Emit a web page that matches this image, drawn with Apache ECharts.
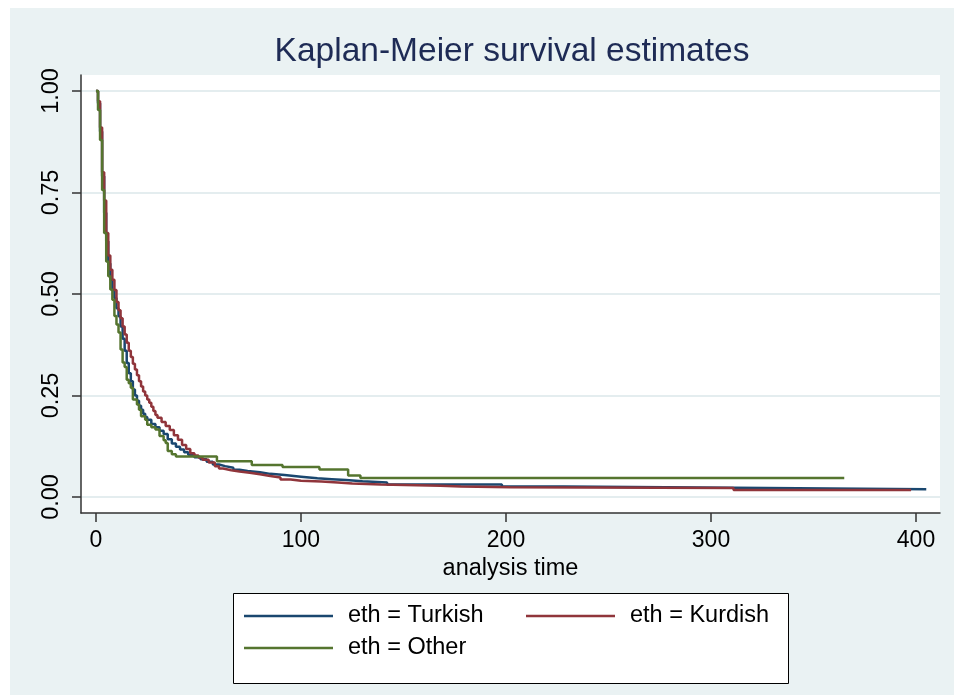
<!DOCTYPE html>
<html>
<head>
<meta charset="utf-8">
<script src="https://cdn.jsdelivr.net/npm/echarts@6/dist/echarts.min.js"></script>
<style>
  html, body { margin: 0; padding: 0; background: #ffffff; }
  #chart { width: 954px; height: 695px; }
</style>
</head>
<body>
<div id="chart"></div>
<script>
// Axis ticks
const xTicks = [0, 100, 200, 300, 400];
const yTicks = [0, 0.25, 0.5, 0.75, 1];

// Group labels
const groupNames = ['eth = Turkish', 'eth = Kurdish', 'eth = Other'];

// Kaplan-Meier estimates: event times and survival after each step
const turkishTime = [0,1,2,3,4,5,6,7,8,9,10,11,12,13,14,15,16,17,18,19,20,21,22,23,24,25,27,29,31,33,35,37,39,41,43,45,48,51,54,57,60,63,67,70,74,80,85,92,100,108,115,122,130,142,198,228,311,405];
const turkishSurv = [1,0.97,0.9,0.79,0.7,0.63,0.575,0.535,0.51,0.49,0.465,0.445,0.42,0.39,0.36,0.33,0.305,0.285,0.265,0.25,0.237,0.225,0.215,0.205,0.197,0.19,0.18,0.172,0.163,0.155,0.142,0.132,0.124,0.117,0.11,0.104,0.098,0.093,0.087,0.08,0.076,0.072,0.067,0.064,0.061,0.057,0.054,0.05,0.046,0.044,0.042,0.039,0.036,0.031,0.026,0.023,0.019,0.019];

const kurdishTime = [0,1,2,3,4,5,6,7,8,9,10,11,12,13,14,15,16,17,18,19,20,21,22,23,24,25,26,27,28,29,30,32,34,36,38,40,42,44,46,48,50,52,55,58,60,62,66,70,75,80,85,90,95,100,110,118,125,139,168,178,202,311,397.6];
const kurdishSurv = [1,0.975,0.91,0.8,0.73,0.65,0.595,0.56,0.535,0.51,0.48,0.46,0.44,0.42,0.4,0.38,0.36,0.345,0.328,0.314,0.3,0.285,0.272,0.26,0.25,0.24,0.232,0.222,0.212,0.202,0.195,0.185,0.175,0.165,0.152,0.141,0.128,0.118,0.108,0.102,0.097,0.092,0.085,0.076,0.07,0.066,0.063,0.06,0.056,0.052,0.048,0.043,0.04,0.038,0.036,0.033,0.031,0.028,0.026,0.024,0.022,0.017,0.017];

const otherTime = [0,1,2,3,4,5,6,7,8,9,10,11,12,13,14,15,16,17,18,20,21,22,24,25,27,29,31,33,34,35,37,39,59,76,91,109,123,129,365];
const otherSurv = [1,0.953,0.879,0.756,0.65,0.58,0.544,0.511,0.486,0.446,0.425,0.405,0.363,0.331,0.32,0.289,0.28,0.269,0.24,0.228,0.215,0.199,0.19,0.178,0.172,0.166,0.15,0.14,0.133,0.113,0.105,0.1,0.088,0.079,0.074,0.068,0.053,0.047,0.047];

const colors = ['#1A476F', '#90353B', '#55752F'];
const FONT = 'Liberation Sans, Arial, sans-serif';

function pairs(times, surv) {
  return times.map((t, i) => [t, surv[i]]);
}

const curves = [
  pairs(turkishTime, turkishSurv),
  pairs(kurdishTime, kurdishSurv),
  pairs(otherTime, otherSurv)
];

const chart = echarts.init(document.getElementById('chart'), null, { renderer: 'canvas' });

const legendBase = {
  orient: 'horizontal',
  icon: 'rect',
  itemWidth: 89,
  itemHeight: 2.5,
  padding: 0,
  selectedMode: false,
  z: 6,
  textStyle: { fontFamily: FONT, fontSize: 23.5, color: '#000', padding: [0, 0, 0, 10] }
};

chart.setOption({
  animation: false,
  backgroundColor: '#EAF2F3',
  title: {
    text: 'Kaplan-Meier survival estimates',
    left: 507,
    top: 30,
    textAlign: 'center',
    textStyle: { fontFamily: FONT, fontSize: 33.5, fontWeight: 'normal', color: '#1E2B55' }
  },
  graphic: [
    { type: 'rect', shape: { x: 0, y: 0, width: 954, height: 8 }, style: { fill: '#fff' }, silent: true },
    { type: 'rect', shape: { x: 0, y: 0, width: 10, height: 695 }, style: { fill: '#fff' }, silent: true },
    { type: 'rect', shape: { x: 233.5, y: 593.5, width: 555, height: 90 }, style: { fill: '#fff', stroke: '#000', lineWidth: 1 }, silent: true, z: 1 }
  ],
  legend: [
    Object.assign({}, legendBase, { data: [groupNames[0]], left: 244, top: 604 }),
    Object.assign({}, legendBase, { data: [groupNames[1]], left: 526, top: 604 }),
    Object.assign({}, legendBase, { data: [groupNames[2]], left: 244, top: 636 })
  ],
  grid: {
    left: 81, top: 75, width: 859, height: 438,
    show: true, backgroundColor: '#fff', borderWidth: 0,
    containLabel: false
  },
  xAxis: {
    type: 'value',
    min: -7.3,
    max: 411.7,
    name: 'analysis time',
    nameLocation: 'middle',
    nameGap: 40,
    nameTextStyle: { fontFamily: FONT, fontSize: 23.5, color: '#000' },
    axisLine: { show: true, onZero: false, lineStyle: { color: '#333', width: 1.5 } },
    axisTick: { show: true, length: 9, customValues: xTicks, lineStyle: { color: '#333', width: 1.5 } },
    axisLabel: { customValues: xTicks, fontFamily: FONT, fontSize: 23, color: '#000', margin: 16 },
    splitLine: { show: false }
  },
  yAxis: {
    type: 'value',
    min: -0.0394,
    max: 1.0394,
    axisLine: { show: true, onZero: false, lineStyle: { color: '#333', width: 1.5 } },
    axisTick: { show: true, length: 9, customValues: yTicks, lineStyle: { color: '#333', width: 1.5 } },
    axisLabel: {
      customValues: yTicks,
      rotate: 90,
      margin: 17,
      fontFamily: FONT, fontSize: 23.5, color: '#000',
      formatter: v => v.toFixed(2)
    },
    splitLine: { show: true, lineStyle: { color: '#E4EDEF', width: 2 } }
  },
  series: curves.map((data, i) => ({
    name: groupNames[i],
    type: 'line',
    step: 'end',
    data: data,
    color: colors[i],
    showSymbol: false,
    symbol: 'none',
    lineStyle: { color: colors[i], width: 2.5 },
    itemStyle: { color: colors[i] }
  }))
});
</script>
</body>
</html>
